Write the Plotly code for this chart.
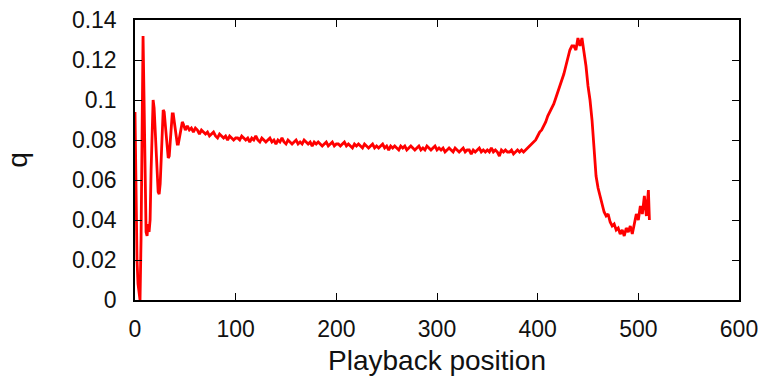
import plotly.graph_objects as go

# Playback positions
pos_head = list(range(0, 51))
pos_body = list(range(52, 512, 2))
positions = pos_head + pos_body + [511]

q_head = [0.094, 0.050, 0.020, 0.008, 0.002, 0.000, 0.030, 0.100, 0.132, 0.100,
          0.060, 0.034, 0.032, 0.038, 0.034, 0.040, 0.065, 0.090, 0.100, 0.096,
          0.084, 0.070, 0.060, 0.054, 0.053, 0.058, 0.070, 0.085, 0.095, 0.094,
          0.088, 0.080, 0.074, 0.071, 0.072, 0.078, 0.086, 0.093, 0.093, 0.089,
          0.084, 0.080, 0.078, 0.078, 0.081, 0.085, 0.088, 0.089, 0.088, 0.086,
          0.085]

q_52_100 = [0.087, 0.085, 0.086, 0.084, 0.086, 0.085, 0.083, 0.085, 0.084, 0.083,
            0.084, 0.082, 0.083, 0.084, 0.082, 0.081, 0.083, 0.082, 0.081, 0.082,
            0.080, 0.082, 0.081, 0.080, 0.081]

q_102_200 = [0.081, 0.080, 0.082, 0.081, 0.080, 0.081, 0.079, 0.081, 0.080, 0.082,
             0.080, 0.079, 0.081, 0.080, 0.079, 0.080, 0.081, 0.079, 0.080, 0.078,
             0.080, 0.079, 0.081, 0.079, 0.078, 0.080, 0.079, 0.078, 0.079, 0.080,
             0.078, 0.079, 0.078, 0.080, 0.079, 0.078, 0.079, 0.077, 0.079, 0.078,
             0.079, 0.078, 0.077, 0.078, 0.079, 0.077, 0.078, 0.079, 0.077, 0.078]

q_202_300 = [0.078, 0.077, 0.078, 0.079, 0.077, 0.078, 0.077, 0.076, 0.078, 0.077,
             0.078, 0.077, 0.076, 0.078, 0.077, 0.076, 0.077, 0.078, 0.076, 0.077,
             0.076, 0.077, 0.078, 0.076, 0.077, 0.075, 0.077, 0.076, 0.077, 0.076,
             0.075, 0.077, 0.076, 0.077, 0.075, 0.076, 0.077, 0.076, 0.075, 0.076,
             0.077, 0.075, 0.076, 0.075, 0.077, 0.076, 0.075, 0.076, 0.077, 0.075]

q_302_386 = [0.076, 0.075, 0.076, 0.074, 0.075, 0.076, 0.075, 0.074, 0.076, 0.075,
             0.074, 0.075, 0.076, 0.074, 0.075, 0.075, 0.073, 0.075, 0.074, 0.075,
             0.076, 0.074, 0.075, 0.074, 0.075, 0.074, 0.076, 0.074, 0.075, 0.074,
             0.072, 0.075, 0.074, 0.075, 0.074, 0.074, 0.075, 0.073, 0.074, 0.075,
             0.074, 0.075, 0.074]

q_388_460 = [0.075, 0.076, 0.077, 0.078, 0.079, 0.080, 0.082, 0.084, 0.085, 0.087,
             0.089, 0.092, 0.094, 0.096, 0.098, 0.101, 0.104, 0.106, 0.110, 0.113,
             0.117, 0.121, 0.125, 0.127, 0.127, 0.125, 0.131, 0.127, 0.131, 0.124,
             0.117, 0.107, 0.100, 0.090, 0.075, 0.062, 0.056]

q_462_511 = [0.052, 0.048, 0.044, 0.042, 0.043, 0.039, 0.037, 0.038, 0.035, 0.036,
             0.033, 0.035, 0.032, 0.036, 0.034, 0.037, 0.033, 0.038, 0.043, 0.040,
             0.047, 0.043, 0.052, 0.042, 0.055, 0.040]

q_values = q_head + q_52_100 + q_102_200 + q_202_300 + q_302_386 + q_388_460 + q_462_511

x_ticks = [0, 100, 200, 300, 400, 500, 600]
y_ticks = [0, 0.02, 0.04, 0.06, 0.08, 0.1, 0.12, 0.14]
y_labels = ["0", "0.02", "0.04", "0.06", "0.08", "0.1", "0.12", "0.14"]

fig = go.Figure()
fig.add_trace(go.Scatter(x=positions, y=q_values, mode="lines",
                         line=dict(color="#ff0000", width=2.8), showlegend=False))

font = dict(family="Liberation Sans, Arial, sans-serif", size=23, color="#111111")

fig.update_layout(
    width=765, height=376,
    margin=dict(l=135, r=26, t=20, b=76),
    paper_bgcolor="white", plot_bgcolor="white",
    font=font,
)
fig.update_xaxes(range=[0, 600], tickvals=x_ticks, ticks="inside", ticklen=7,
                 tickwidth=1.2, tickcolor="black", mirror="ticks", showline=True,
                 linecolor="black", linewidth=1.5, showgrid=False, zeroline=False,
                 title=dict(text="Playback position", standoff=10),
                 ticklabelstandoff=8, automargin=False)
fig.update_yaxes(range=[0, 0.14], tickvals=y_ticks, ticktext=y_labels, ticks="inside",
                 ticklen=7, tickwidth=1.2, tickcolor="black", mirror="ticks",
                 showline=True, linecolor="black", linewidth=1.5, showgrid=False,
                 zeroline=False, title=dict(text="q", standoff=36),
                 ticklabelstandoff=12, automargin=False)

fig.write_html("out.html")
